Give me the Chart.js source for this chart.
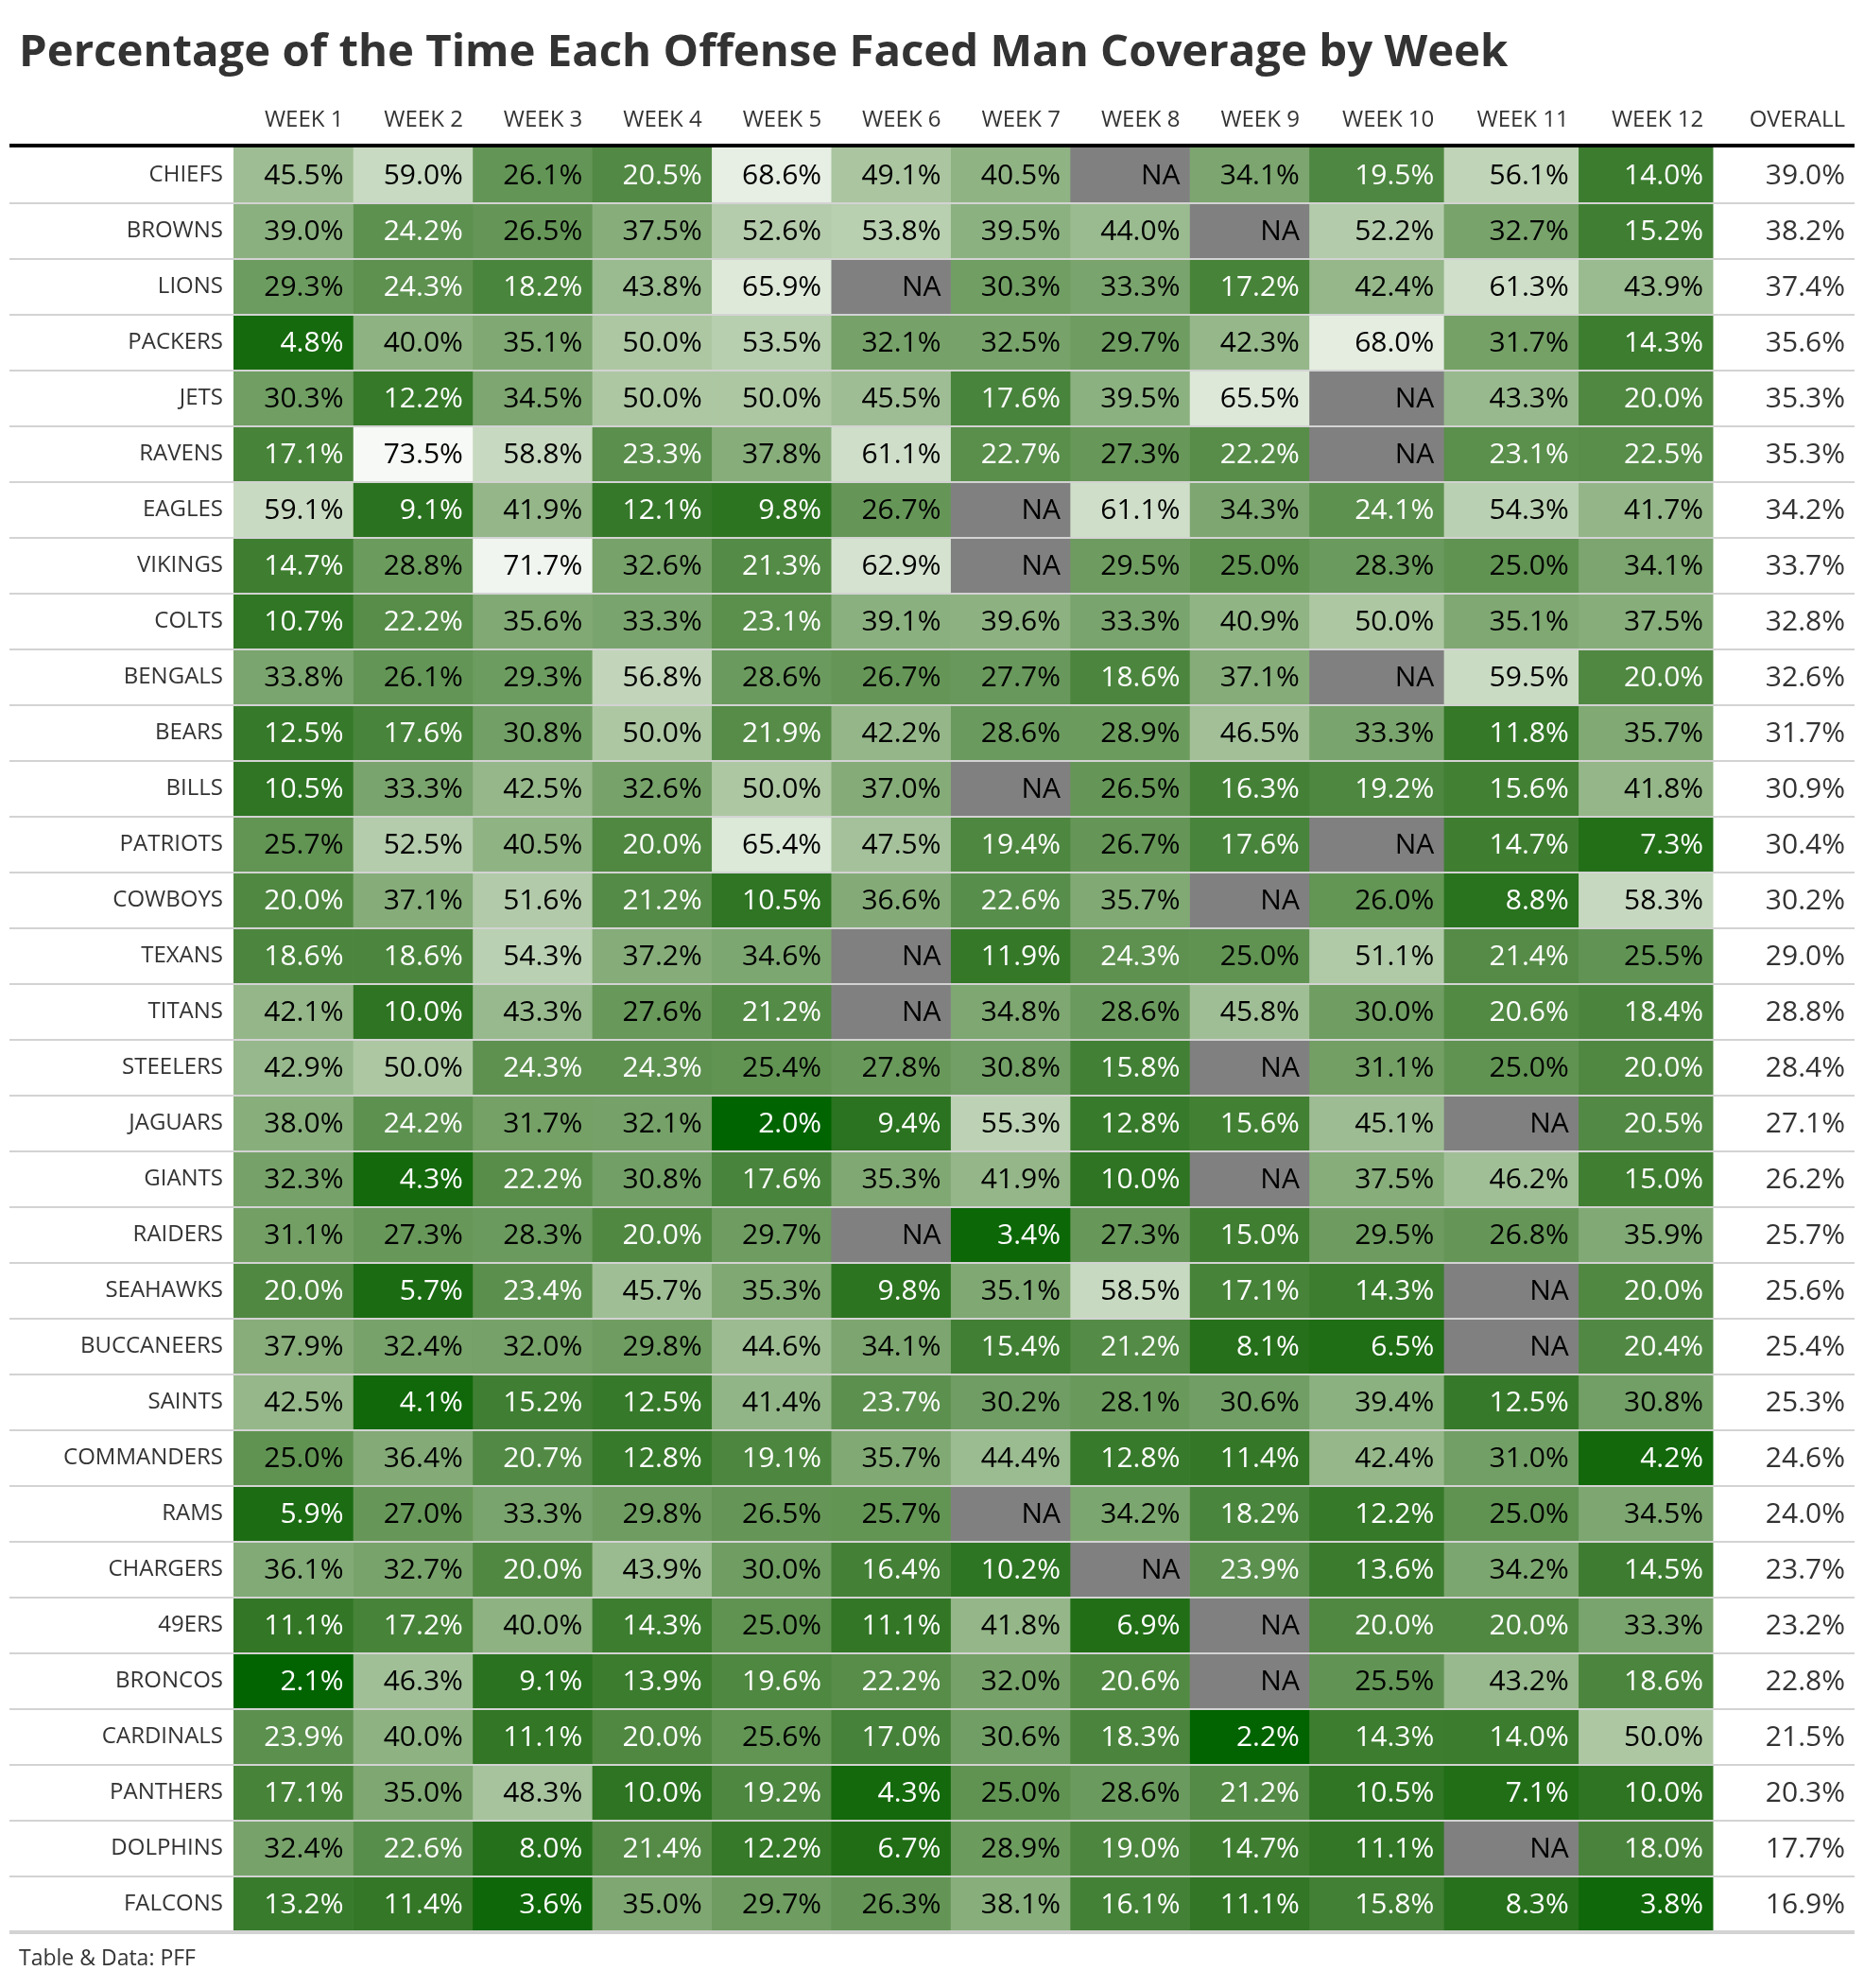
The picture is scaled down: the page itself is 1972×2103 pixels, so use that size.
<!DOCTYPE html>
<html>
<head>
<meta charset="utf-8">
<title>Man Coverage by Week</title>
<script src="https://cdn.jsdelivr.net/npm/chart.js@4.4.0/dist/chart.umd.min.js"></script>
<style>
    html, body { margin: 0; padding: 0; background: #ffffff; }
    #wrap { width: 1972px; height: 2103px; position: relative; }
</style>
</head>
<body>
<div id="wrap"><canvas id="coverageChart"></canvas></div>
<script>
// ---- data (percent of snaps vs man coverage, null = NA) ----
const teams = ['CHIEFS', 'BROWNS', 'LIONS', 'PACKERS', 'JETS', 'RAVENS', 'EAGLES', 'VIKINGS',
    'COLTS', 'BENGALS', 'BEARS', 'BILLS', 'PATRIOTS', 'COWBOYS', 'TEXANS', 'TITANS',
    'STEELERS', 'JAGUARS', 'GIANTS', 'RAIDERS', 'SEAHAWKS', 'BUCCANEERS', 'SAINTS', 'COMMANDERS',
    'RAMS', 'CHARGERS', '49ERS', 'BRONCOS', 'CARDINALS', 'PANTHERS', 'DOLPHINS', 'FALCONS'];

const weekLabels = ['WEEK 1', 'WEEK 2', 'WEEK 3', 'WEEK 4', 'WEEK 5', 'WEEK 6',
    'WEEK 7', 'WEEK 8', 'WEEK 9', 'WEEK 10', 'WEEK 11', 'WEEK 12'];
const overallLabel = 'OVERALL';

const week1 = [45.5, 39.0, 29.3, 4.8, 30.3, 17.1, 59.1, 14.7, 10.7, 33.8, 12.5, 10.5, 25.7, 20.0, 18.6, 42.1,
    42.9, 38.0, 32.3, 31.1, 20.0, 37.9, 42.5, 25.0, 5.9, 36.1, 11.1, 2.1, 23.9, 17.1, 32.4, 13.2];
const week2 = [59.0, 24.2, 24.3, 40.0, 12.2, 73.5, 9.1, 28.8, 22.2, 26.1, 17.6, 33.3, 52.5, 37.1, 18.6, 10.0,
    50.0, 24.2, 4.3, 27.3, 5.7, 32.4, 4.1, 36.4, 27.0, 32.7, 17.2, 46.3, 40.0, 35.0, 22.6, 11.4];
const week3 = [26.1, 26.5, 18.2, 35.1, 34.5, 58.8, 41.9, 71.7, 35.6, 29.3, 30.8, 42.5, 40.5, 51.6, 54.3, 43.3,
    24.3, 31.7, 22.2, 28.3, 23.4, 32.0, 15.2, 20.7, 33.3, 20.0, 40.0, 9.1, 11.1, 48.3, 8.0, 3.6];
const week4 = [20.5, 37.5, 43.8, 50.0, 50.0, 23.3, 12.1, 32.6, 33.3, 56.8, 50.0, 32.6, 20.0, 21.2, 37.2, 27.6,
    24.3, 32.1, 30.8, 20.0, 45.7, 29.8, 12.5, 12.8, 29.8, 43.9, 14.3, 13.9, 20.0, 10.0, 21.4, 35.0];
const week5 = [68.6, 52.6, 65.9, 53.5, 50.0, 37.8, 9.8, 21.3, 23.1, 28.6, 21.9, 50.0, 65.4, 10.5, 34.6, 21.2,
    25.4, 2.0, 17.6, 29.7, 35.3, 44.6, 41.4, 19.1, 26.5, 30.0, 25.0, 19.6, 25.6, 19.2, 12.2, 29.7];
const week6 = [49.1, 53.8, null, 32.1, 45.5, 61.1, 26.7, 62.9, 39.1, 26.7, 42.2, 37.0, 47.5, 36.6, null, null,
    27.8, 9.4, 35.3, null, 9.8, 34.1, 23.7, 35.7, 25.7, 16.4, 11.1, 22.2, 17.0, 4.3, 6.7, 26.3];
const week7 = [40.5, 39.5, 30.3, 32.5, 17.6, 22.7, null, null, 39.6, 27.7, 28.6, null, 19.4, 22.6, 11.9, 34.8,
    30.8, 55.3, 41.9, 3.4, 35.1, 15.4, 30.2, 44.4, null, 10.2, 41.8, 32.0, 30.6, 25.0, 28.9, 38.1];
const week8 = [null, 44.0, 33.3, 29.7, 39.5, 27.3, 61.1, 29.5, 33.3, 18.6, 28.9, 26.5, 26.7, 35.7, 24.3, 28.6,
    15.8, 12.8, 10.0, 27.3, 58.5, 21.2, 28.1, 12.8, 34.2, null, 6.9, 20.6, 18.3, 28.6, 19.0, 16.1];
const week9 = [34.1, null, 17.2, 42.3, 65.5, 22.2, 34.3, 25.0, 40.9, 37.1, 46.5, 16.3, 17.6, null, 25.0, 45.8,
    null, 15.6, null, 15.0, 17.1, 8.1, 30.6, 11.4, 18.2, 23.9, null, null, 2.2, 21.2, 14.7, 11.1];
const week10 = [19.5, 52.2, 42.4, 68.0, null, null, 24.1, 28.3, 50.0, null, 33.3, 19.2, null, 26.0, 51.1, 30.0,
    31.1, 45.1, 37.5, 29.5, 14.3, 6.5, 39.4, 42.4, 12.2, 13.6, 20.0, 25.5, 14.3, 10.5, 11.1, 15.8];
const week11 = [56.1, 32.7, 61.3, 31.7, 43.3, 23.1, 54.3, 25.0, 35.1, 59.5, 11.8, 15.6, 14.7, 8.8, 21.4, 20.6,
    25.0, null, 46.2, 26.8, null, null, 12.5, 31.0, 25.0, 34.2, 20.0, 43.2, 14.0, 7.1, null, 8.3];
const week12 = [14.0, 15.2, 43.9, 14.3, 20.0, 22.5, 41.7, 34.1, 37.5, 20.0, 35.7, 41.8, 7.3, 58.3, 25.5, 18.4,
    20.0, 20.5, 15.0, 35.9, 20.0, 20.4, 30.8, 4.2, 34.5, 14.5, 33.3, 18.6, 50.0, 10.0, 18.0, 3.8];
const overall = [39.0, 38.2, 37.4, 35.6, 35.3, 35.3, 34.2, 33.7, 32.8, 32.6, 31.7, 30.9, 30.4, 30.2, 29.0, 28.8,
    28.4, 27.1, 26.2, 25.7, 25.6, 25.4, 25.3, 24.6, 24.0, 23.7, 23.2, 22.8, 21.5, 20.3, 17.7, 16.9];

const titleText = 'Percentage of the Time Each Offense Faced Man Coverage by Week';
const sourceText = 'Table & Data: PFF';

// ---- layout / style ----
const weeks = [week1, week2, week3, week4, week5, week6, week7, week8, week9, week10, week11, week12];
const colWidths = [126.4, 126.4, 126.4, 126.4, 126.4, 126.4, 126.4, 126.4, 126.4, 142.4, 142.4, 142.4, 149.8];
const FONT = '"Open Sans", "Noto Sans", sans-serif';
const LOW_COLOR = '#006400';
const HIGH_COLOR = '#f6f9f5';
const NA_COLOR = '#808080';

const edges = [0];
colWidths.forEach(w => edges.push(edges[edges.length - 1] + w));

// colour scale: interpolate in CIELAB between dark green and (almost) white
function hexToRgb(hex) {
    const n = parseInt(hex.slice(1), 16);
    return [(n >> 16) & 255, (n >> 8) & 255, n & 255];
}
function toLinear(c) {
    c /= 255;
    return c <= 0.04045 ? c / 12.92 : Math.pow((c + 0.055) / 1.055, 2.4);
}
function fromLinear(c) {
    const v = c <= 0.0031308 ? 12.92 * c : 1.055 * Math.pow(c, 1 / 2.4) - 0.055;
    return Math.round(Math.min(1, Math.max(0, v)) * 255);
}
function rgbToLab(rgb) {
    const [r, g, b] = rgb.map(toLinear);
    const x = (0.4124 * r + 0.3576 * g + 0.1805 * b) / 0.95047;
    const y = 0.2126 * r + 0.7152 * g + 0.0722 * b;
    const z = (0.0193 * r + 0.1192 * g + 0.9505 * b) / 1.08883;
    const f = t => t > 0.008856 ? Math.cbrt(t) : 7.787 * t + 16 / 116;
    return [116 * f(y) - 16, 500 * (f(x) - f(y)), 200 * (f(y) - f(z))];
}
function labToRgb(lab) {
    const fy = (lab[0] + 16) / 116, fx = fy + lab[1] / 500, fz = fy - lab[2] / 200;
    const inv = t => (t * t * t > 0.008856 ? t * t * t : (t - 16 / 116) / 7.787);
    const x = inv(fx) * 0.95047, y = inv(fy), z = inv(fz) * 1.08883;
    return [
        fromLinear(3.2406 * x - 1.5372 * y - 0.4986 * z),
        fromLinear(-0.9689 * x + 1.8758 * y + 0.0415 * z),
        fromLinear(0.0557 * x - 0.2040 * y + 1.0570 * z)
    ];
}

const allWeekly = weeks.flat().filter(v => v !== null);
const domainMin = Math.min(...allWeekly);
const domainMax = Math.max(...allWeekly);
const labLow = rgbToLab(hexToRgb(LOW_COLOR));
const labHigh = rgbToLab(hexToRgb(HIGH_COLOR));

function cellColor(v) {
    if (v === null || v === undefined) return NA_COLOR;
    const t = (v - domainMin) / (domainMax - domainMin);
    const lab = labLow.map((l, k) => l + (labHigh[k] - l) * t);
    const [r, g, b] = labToRgb(lab);
    return `rgb(${r}, ${g}, ${b})`;
}

function fitTitleSize(text, width) {
    const c = document.createElement('canvas').getContext('2d');
    c.font = `bold 100px ${FONT}`;
    return Math.round(100 * width / c.measureText(text).width * 10) / 10;
}

// ---- datasets: one floating bar per team per column ----
const columns = [...weeks, overall];
const datasets = columns.map((vals, c) => ({
    label: c < weeks.length ? weekLabels[c] : overallLabel,
    data: vals.map((v, i) => ({ y: teams[i], x: [edges[c], edges[c + 1]], v: v })),
    backgroundColor: ctx => {
        if (c === weeks.length) return '#ffffff';
        return ctx.raw ? cellColor(ctx.raw.v) : '#ffffff';
    },
    borderWidth: 0,
    barPercentage: 1,
    categoryPercentage: 1,
    grouped: false
}));

// row rules + cell text
const tablePlugin = {
    id: 'tablePlugin',
    afterDatasetsDraw(chart) {
        const { ctx } = chart;
        const yScale = chart.scales.y;
        const left = 10, right = 1962;
        ctx.save();

        for (let i = 1; i < teams.length; i++) {
            const y = yScale.getPixelForValue(i - 0.5);
            ctx.strokeStyle = '#d3d3d3';
            ctx.lineWidth = 2;
            ctx.beginPath(); ctx.moveTo(left, y); ctx.lineTo(right, y); ctx.stroke();
        }
        const yBottom = yScale.getPixelForValue(teams.length - 0.5);
        ctx.strokeStyle = '#d3d3d3';
        ctx.lineWidth = 4;
        ctx.beginPath(); ctx.moveTo(left, yBottom); ctx.lineTo(right, yBottom); ctx.stroke();

        const yTop = yScale.getPixelForValue(-0.5) - 2;
        ctx.strokeStyle = '#000000';
        ctx.lineWidth = 4;
        ctx.beginPath(); ctx.moveTo(left, yTop); ctx.lineTo(right, yTop); ctx.stroke();

        ctx.font = `30px ${FONT}`;
        ctx.textAlign = 'right';
        ctx.textBaseline = 'middle';
        chart.data.datasets.forEach((ds, c) => {
            const meta = chart.getDatasetMeta(c);
            const isOverall = c === weeks.length;
            meta.data.forEach((bar, i) => {
                const v = ds.data[i].v;
                const x = Math.max(bar.x, bar.base) - 10;
                let color = '#000000';
                if (isOverall) color = '#333333';
                else if (v !== null && v < 25) color = '#ffffff';
                ctx.fillStyle = color;
                ctx.fillText(v === null ? 'NA' : v.toFixed(1) + '%', x, bar.y + 1);
            });
        });
        ctx.restore();
    }
};

const chart = new Chart(document.getElementById('coverageChart'), {
    type: 'bar',
    data: { labels: teams, datasets: datasets },
    options: {
        indexAxis: 'y',
        responsive: true,
        maintainAspectRatio: false,
        animation: false,
        events: [],
        layout: { padding: { left: 20, right: 10, top: 0, bottom: 0 } },
        scales: {
            x: {
                type: 'linear',
                position: 'top',
                min: 0,
                max: edges[edges.length - 1],
                grid: { display: false, drawTicks: false },
                border: { display: false },
                afterBuildTicks: scale => {
                    scale.ticks = edges.slice(1).map(e => ({ value: e - 10 }));
                },
                afterFit: scale => { scale.height = 69; },
                ticks: {
                    autoSkip: false,
                    maxRotation: 0,
                    align: 'end',
                    padding: 14,
                    color: '#333333',
                    font: { family: FONT, size: 24, lineHeight: 1.2 },
                    callback: (value, index) => index < weeks.length ? weekLabels[index] : overallLabel
                }
            },
            y: {
                type: 'category',
                grid: { display: false, drawTicks: false },
                border: { display: false },
                afterFit: scale => { scale.width = 227; },
                ticks: {
                    autoSkip: false,
                    padding: 11,
                    color: '#333333',
                    font: { family: FONT, size: 24 }
                }
            }
        },
        plugins: {
            legend: { display: false },
            tooltip: { enabled: false },
            title: {
                display: true,
                text: titleText,
                align: 'start',
                color: '#333333',
                padding: { top: 27, bottom: 0 },
                font: { family: FONT, size: fitTitleSize(titleText, 1576), weight: 'bold', lineHeight: '60px' }
            },
            subtitle: {
                display: true,
                text: sourceText,
                position: 'bottom',
                align: 'start',
                color: '#333333',
                padding: { top: 16, bottom: 18 },
                font: { family: FONT, size: 23, lineHeight: '25px' }
            }
        }
    },
    plugins: [tablePlugin]
});
</script>
</body>
</html>
